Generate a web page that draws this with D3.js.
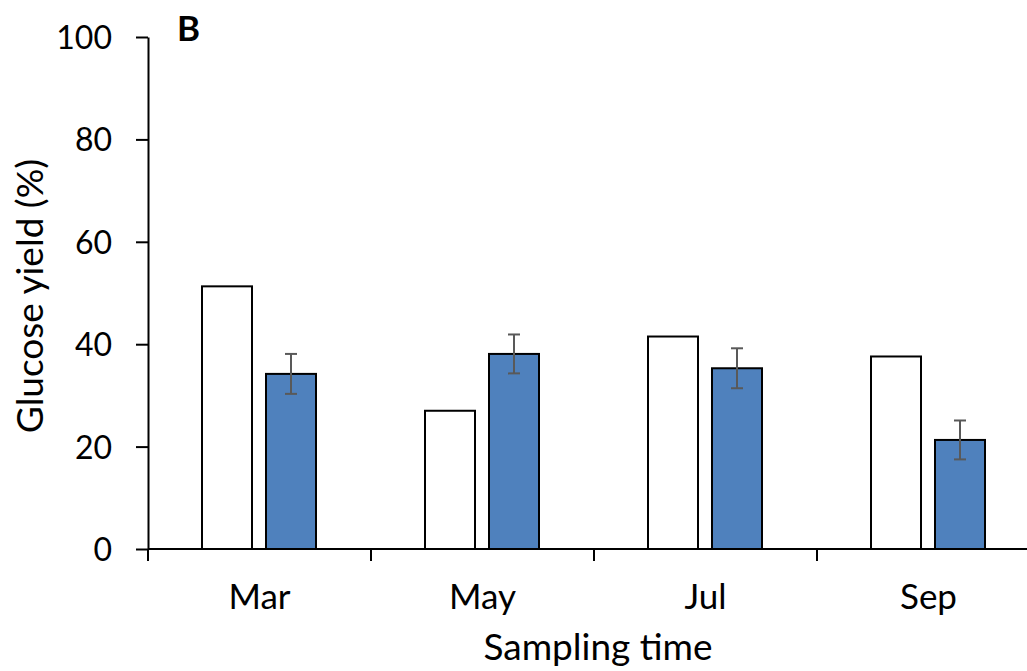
<!DOCTYPE html>
<html>
<head>
<meta charset="utf-8">
<script src="https://cdn.jsdelivr.net/npm/d3@7"></script>
<style>
  body { margin: 0; background: #fff; }
  text { font-family: Lato, "Open Sans", sans-serif; fill: #000; }
</style>
</head>
<body>
<div id="chart"></div>
<script>
// data
const months = ["Mar", "May", "Jul", "Sep"];
const whiteVals = [51.3, 27.0, 41.5, 37.6];
const blueVals = [34.2, 38.1, 35.3, 21.3];
const blueErr = [3.9, 3.8, 3.9, 3.8];
const yTicks = [0, 20, 40, 60, 80, 100];

const W = 1027, H = 671;
const margin = { top: 37, right: 0, bottom: 122, left: 148 };
const height = H - margin.top - margin.bottom;
const bandW = 223;

const svg = d3.select("#chart").append("svg")
    .attr("width", W)
    .attr("height", H);

const g = svg.append("g")
    .attr("transform", `translate(${margin.left},${margin.top})`);

const x = d3.scaleBand()
    .domain(months)
    .range([0, bandW * months.length]);

const y = d3.scaleLinear()
    .domain([0, 100])
    .range([height, 0]);

// y axis
const yAxis = g.append("g")
    .call(d3.axisLeft(y).tickValues(yTicks).tickSize(12).tickSizeOuter(0));
yAxis.select(".domain").attr("stroke", "#000").attr("stroke-width", 2);
yAxis.selectAll(".tick line").attr("stroke", "#000").attr("stroke-width", 2);
yAxis.selectAll(".tick text")
    .attr("x", -36)
    .attr("dy", "0.36em")
    .style("font-size", "32px");

// bars - white
g.selectAll(".bar-w")
    .data(whiteVals)
    .enter()
    .append("rect")
    .attr("class", "bar-w")
    .attr("x", (d, i) => x(months[i]) + 54)
    .attr("width", 50)
    .attr("y", d => y(d))
    .attr("height", d => height - y(d))
    .attr("fill", "#fff")
    .attr("stroke", "#000")
    .attr("stroke-width", 2);

// bars - blue
g.selectAll(".bar-b")
    .data(blueVals)
    .enter()
    .append("rect")
    .attr("class", "bar-b")
    .attr("x", (d, i) => x(months[i]) + 118)
    .attr("width", 50)
    .attr("y", d => y(d))
    .attr("height", d => height - y(d))
    .attr("fill", "#4f81bd")
    .attr("stroke", "#000")
    .attr("stroke-width", 2);

// error bars
const errG = g.selectAll(".err")
    .data(blueVals)
    .enter()
    .append("g")
    .attr("class", "err")
    .attr("stroke", "#595959")
    .attr("stroke-width", 2);

errG.append("line")
    .attr("x1", (d, i) => x(months[i]) + 143)
    .attr("x2", (d, i) => x(months[i]) + 143)
    .attr("y1", (d, i) => y(d + blueErr[i]))
    .attr("y2", (d, i) => y(d - blueErr[i]));
errG.append("line")
    .attr("x1", (d, i) => x(months[i]) + 137)
    .attr("x2", (d, i) => x(months[i]) + 149)
    .attr("y1", (d, i) => y(d + blueErr[i]))
    .attr("y2", (d, i) => y(d + blueErr[i]));
errG.append("line")
    .attr("x1", (d, i) => x(months[i]) + 137)
    .attr("x2", (d, i) => x(months[i]) + 149)
    .attr("y1", (d, i) => y(d - blueErr[i]))
    .attr("y2", (d, i) => y(d - blueErr[i]));

// x axis (ticks sit on band edges)
const xAxisG = g.append("g")
    .attr("transform", `translate(0,${height})`);
xAxisG.append("line")
    .attr("x1", 0)
    .attr("x2", bandW * months.length)
    .attr("stroke", "#000")
    .attr("stroke-width", 2);
xAxisG.selectAll(".xtick")
    .data(months)
    .enter()
    .append("line")
    .attr("x1", d => x(d))
    .attr("x2", d => x(d))
    .attr("y1", 0)
    .attr("y2", 12)
    .attr("stroke", "#000")
    .attr("stroke-width", 2);
xAxisG.selectAll(".xlabel")
    .data(months)
    .enter()
    .append("text")
    .attr("x", d => x(d) + x.bandwidth() / 2)
    .attr("y", 60)
    .attr("text-anchor", "middle")
    .style("font-size", "35px")
    .text(d => d);

// axis titles
svg.append("text")
    .attr("x", 598)
    .attr("y", 660)
    .attr("text-anchor", "middle")
    .style("font-size", "37px")
    .text("Sampling time");

svg.append("text")
    .attr("transform", "rotate(-90)")
    .attr("x", -296)
    .attr("y", 43)
    .attr("text-anchor", "middle")
    .style("font-size", "37px")
    .text("Glucose yield (%)");

// panel letter
svg.append("text")
    .attr("x", 177)
    .attr("y", 41)
    .style("font-size", "35px")
    .style("font-weight", "bold")
    .text("B");
</script>
</body>
</html>
